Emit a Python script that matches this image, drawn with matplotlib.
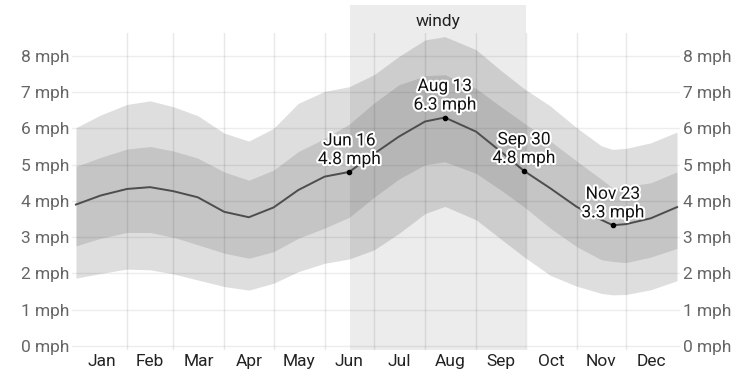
import numpy as np
import matplotlib.pyplot as plt
import matplotlib.patheffects as pe

plt.rcParams['font.family'] = ['Roboto', 'DejaVu Sans']

# day of year (Jan 1 = 0) where values were read
days = [0, 15, 31, 45, 59, 74, 90, 105, 120, 135, 151, 166, 181, 196,
        212, 224, 243, 258, 272, 288, 304, 319, 326, 334, 349, 365]
median = [3.90, 4.15, 4.33, 4.38, 4.27, 4.10, 3.70, 3.55, 3.82, 4.30, 4.67, 4.80, 5.30, 5.77,
          6.19, 6.30, 5.91, 5.36, 4.83, 4.35, 3.84, 3.48, 3.33, 3.36, 3.52, 3.83]
p75 = [4.95, 5.20, 5.43, 5.50, 5.38, 5.18, 4.80, 4.57, 4.85, 5.36, 5.72, 6.12, 6.70, 7.20,
       7.45, 7.48, 7.10, 6.60, 6.15, 5.65, 5.10, 4.60, 4.35, 4.40, 4.50, 4.80]
p25 = [2.76, 2.97, 3.13, 3.13, 3.00, 2.79, 2.56, 2.42, 2.60, 2.97, 3.25, 3.55, 4.10, 4.60,
       5.00, 5.08, 4.76, 4.30, 3.84, 3.25, 2.74, 2.38, 2.33, 2.30, 2.45, 2.69]
p90 = [6.02, 6.37, 6.66, 6.76, 6.60, 6.35, 5.87, 5.65, 6.00, 6.69, 7.02, 7.15, 7.48, 7.98,
       8.44, 8.53, 8.17, 7.60, 7.10, 6.62, 6.02, 5.52, 5.42, 5.45, 5.60, 5.90]
p10 = [1.87, 2.00, 2.12, 2.10, 1.99, 1.82, 1.64, 1.54, 1.73, 2.05, 2.28, 2.40, 2.65, 3.10,
       3.65, 3.85, 3.48, 2.95, 2.46, 1.95, 1.65, 1.45, 1.41, 1.42, 1.55, 1.80]

months = ['Jan', 'Feb', 'Mar', 'Apr', 'May', 'Jun', 'Jul', 'Aug', 'Sep', 'Oct', 'Nov', 'Dec']
month_len = [31, 28, 31, 30, 31, 30, 31, 31, 30, 31, 30, 31]

# highlighted days: (day of year, label)
marks = [(166, 'Jun 16'), (224, 'Aug 13'), (272, 'Sep 30'), (326, 'Nov 23')]
windy = (166.5, 273)

month_start = np.concatenate([[0], np.cumsum(month_len)])
month_mid = (month_start[:-1] + month_start[1:]) / 2

fig = plt.figure(figsize=(7.53, 3.73), dpi=100)
ax = fig.add_axes([72 / 753, 23 / 373, 608 / 753, 317 / 373])

ax.axvspan(windy[0], windy[1], ymin=0, ymax=1.088, color='black', alpha=0.075,
           lw=0, clip_on=False, zorder=0)
ax.text((windy[0] + windy[1]) / 2, 1.035, 'windy', transform=ax.get_xaxis_transform(),
        ha='center', va='center', fontsize=12.5, color='#222222')

ax.fill_between(days, p10, p90, color='black', alpha=0.13, lw=0, zorder=1)
ax.fill_between(days, p25, p75, color='black', alpha=0.11, lw=0, zorder=2)

# grid on top of bands
for d in month_start[1:-1]:
    ax.axvline(d, color='black', alpha=0.09, lw=1, zorder=3)
for v in range(9):
    ax.axhline(v, color='black', alpha=0.07, lw=1, zorder=3)

ax.plot(days, median, color='#4d4d4d', lw=1.4, zorder=4)

for d, lab in marks:
    v = median[days.index(d)]
    ax.plot(d, v, 'o', color='black', ms=3, zorder=5)
    ax.annotate(f'{lab}\n{v:.1f} mph', (d, v), xytext=(0, 3.5), textcoords='offset points',
                ha='center', va='bottom', fontsize=12.5, color='#111111', linespacing=1.3,
                zorder=6, path_effects=[pe.withStroke(linewidth=3, foreground='white')])

ax.set_xlim(-2.4, 366.8)
ax.set_ylim(-0.11, 8.63)
ax.set_xticks(month_mid)
ax.set_xticklabels(months)
ax.set_yticks(range(9))
ax.set_yticklabels([f'{v} mph' for v in range(9)])
ax.tick_params(axis='x', length=0, pad=3, labelsize=12.5, labelcolor='#222222')
ax.tick_params(axis='y', length=0, pad=2, labelsize=12.5, labelcolor='#666666',
               labelright=True)
for s in ax.spines.values():
    s.set_visible(False)

fig.savefig('out.png', dpi=100)
